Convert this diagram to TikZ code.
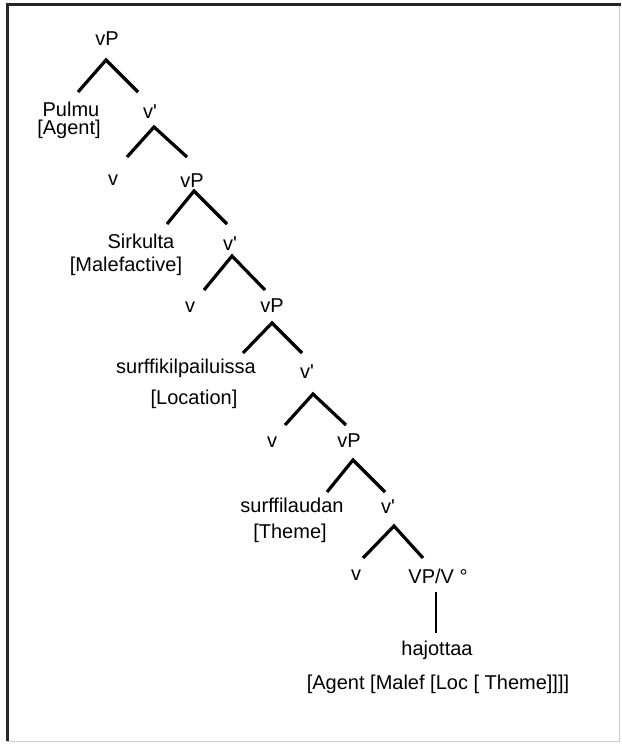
\documentclass[tikz,border=0pt]{standalone}
\usepackage{fontspec}
\setmainfont{Liberation Sans}
\begin{document}
\begin{tikzpicture}[x=1pt,y=-1pt,
  lbl/.style={font=\fontsize{20}{24}\selectfont, inner sep=0pt, anchor=base},
  branch/.style={line width=3.2pt, line join=miter, line cap=butt},
  frameline/.style={line width=3pt, black!85},
  faintline/.style={line width=1pt, black!20}]
\useasboundingbox (0,0) rectangle (621,744);
% frame
\coordinate (fTL) at (7,4);
\coordinate (fTR) at (621,4);
\coordinate (fBL) at (7,741);
\coordinate (fBR) at (619,741);
\coordinate (fRT) at (619,4);
\draw[faintline] (fRT) -- (fBR) -- (fBL);
\draw[frameline] (fBL) -- (fTL) -- (fTR);

% labels
\node[lbl] (vPa) at (107,45) {vP};
\node[lbl] (pulmu) at (71,116) {Pulmu};
\node[lbl] (agent) at (69,134.5) {[Agent]};
\node[lbl] (vba) at (150,118) {v\textquotesingle};
\node[lbl] (va) at (113,185) {v};
\node[lbl] (vPb) at (192,187) {vP};
\node[lbl] (sirk) at (141,248) {Sirkulta};
\node[lbl] (malef) at (126,271) {[Malefactive]};
\node[lbl] (vbb) at (230,250) {v\textquotesingle};
\node[lbl] (vb) at (190,312) {v};
\node[lbl] (vPc) at (272,312) {vP};
\node[lbl] (surfk) at (186,373) {surffikilpailuissa};
\node[lbl] (loc) at (194,404) {[Location]};
\node[lbl] (vbc) at (307,378) {v\textquotesingle};
\node[lbl] (vc) at (272,447) {v};
\node[lbl] (vPd) at (349,447) {vP};
\node[lbl] (surfl) at (292,512) {surffilaudan};
\node[lbl] (theme) at (290,538) {[Theme]};
\node[lbl] (vbd) at (388,513) {v\textquotesingle};
\node[lbl] (vd) at (356,580) {v};
\node[lbl] (VPV) at (438,583) {VP/V °};
\node[lbl] (haj) at (437,655) {hajottaa};
\node[lbl] (args) at (438,689) {[Agent [Malef [Loc [ Theme]]]]};

% branch points
\coordinate (a1) at (106,60);  \coordinate (a1l) at (78,92);  \coordinate (a1r) at (138,92);
\coordinate (a2) at (154,127); \coordinate (a2l) at (127,157); \coordinate (a2r) at (187,157);
\coordinate (a3) at (194,191); \coordinate (a3l) at (167,224); \coordinate (a3r) at (227,224);
\coordinate (a4) at (232,256); \coordinate (a4l) at (204,290); \coordinate (a4r) at (265,290);
\coordinate (a5) at (272,323); \coordinate (a5l) at (243,353); \coordinate (a5r) at (302,353);
\coordinate (a6) at (313,394); \coordinate (a6l) at (285,425); \coordinate (a6r) at (346,425);
\coordinate (a7) at (353,460); \coordinate (a7l) at (327,492); \coordinate (a7r) at (385,492);
\coordinate (a8) at (394,526); \coordinate (a8l) at (363,558); \coordinate (a8r) at (423,558);
\coordinate (u1) at (436,592); \coordinate (u2) at (436,633);

\draw[branch] (a1l) -- (a1) -- (a1r);
\draw[branch] (a2l) -- (a2) -- (a2r);
\draw[branch] (a3l) -- (a3) -- (a3r);
\draw[branch] (a4l) -- (a4) -- (a4r);
\draw[branch] (a5l) -- (a5) -- (a5r);
\draw[branch] (a6l) -- (a6) -- (a6r);
\draw[branch] (a7l) -- (a7) -- (a7r);
\draw[branch] (a8l) -- (a8) -- (a8r);
\draw[line width=2.5pt] (u1) -- (u2);
\end{tikzpicture}
\end{document}
